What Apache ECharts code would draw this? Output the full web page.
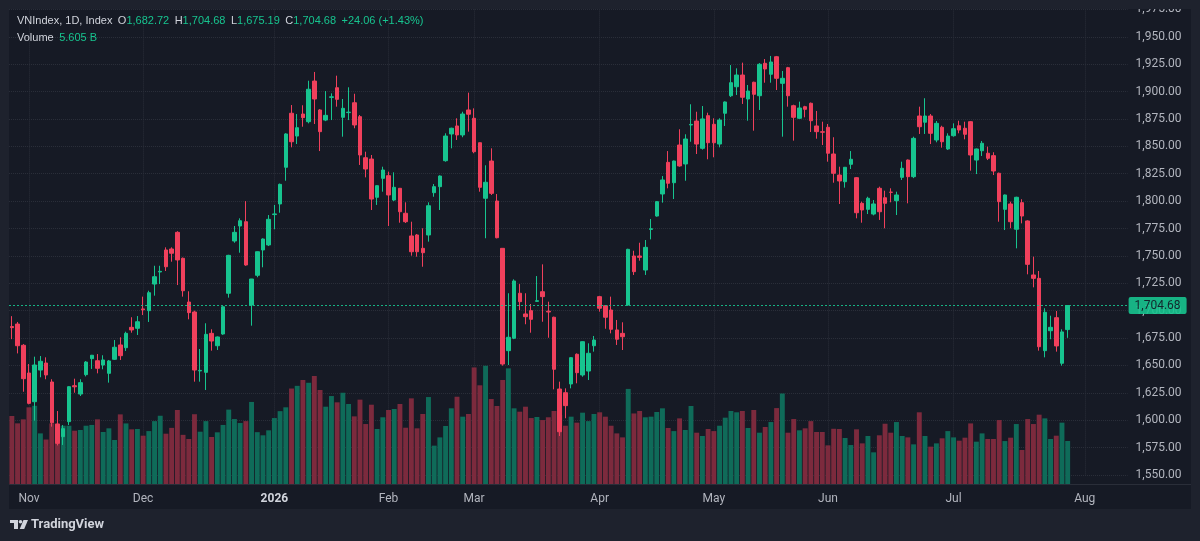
<!DOCTYPE html>
<html>
<head>
<meta charset="utf-8">
<script src="https://cdn.jsdelivr.net/npm/echarts@6.0.0/dist/echarts.min.js"></script>
<style>
html,body{margin:0;padding:0;background:#1e222d;}
#chart{width:1200px;height:541px;}
</style>
</head>
<body>
<div id="chart"></div>
<script>
// VNIndex daily, 29 Oct 2025 -> 29 Jul 2026
const startDate = '2025-10-29';
const holidays = ['2026-01-01','2026-01-02','2026-02-16','2026-02-17','2026-02-18','2026-02-19','2026-02-20','2026-04-27','2026-04-30','2026-05-01'];
const futureSlots = 10;
const monthNames = ['Jan','Feb','Mar','Apr','May','Jun','Jul','Aug','Sep','Oct','Nov','Dec'];

const opens = [1685.5,1687.8,1668.4,1643.1,1616.9,1645.8,1652.2,1634.9,1596.6,1585,
1598.7,1631.5,1623.9,1641.6,1656.2,1654.3,1650.4,1642.8,1655.6,1668.7,
1666.2,1684.8,1683.9,1701.6,1700,1724.3,1735.3,1755.4,1756.3,1771.5,
1747.8,1707.9,1698.8,1645,1643.7,1679.3,1668,1678.7,1715.9,1763.6,
1777.3,1781.2,1705.2,1732.3,1755.4,1760,1787.7,1797.4,1830.9,1880.2,
1859.4,1879.5,1872.5,1909.6,1883.2,1874,1894.7,1903.5,1876.5,1880.8,
1889.8,1877.1,1839.6,1838.4,1803.5,1820.8,1823.2,1801,1811.7,1788.9,
1768.2,1769.1,1756.9,1769.1,1807.7,1813.2,1836.9,1861.3,1868.6,1860.4,
1883.2,1875.6,1853.3,1802.6,1836.6,1800.1,1756.9,1663.5,1674.8,1715.9,
1697,1700,1708.5,1717.3,1699.5,1694,1628.5,1625.1,1633.1,1660.2,
1641.3,1644.9,1668,1712.8,1704.5,1700.6,1682.4,1679.3,1705.2,1749.9,
1749.9,1737.1,1774.2,1786.4,1806.5,1835.4,1816.8,1851.2,1833.9,1869.5,
1873.1,1848.2,1878,1870.1,1852.1,1880.2,1896.2,1904.4,1915.1,1893.2,
1908.5,1896.2,1925.8,1915.8,1931.8,1907.5,1921.8,1887.1,1875.6,1886.2,
1889.3,1868.6,1863.3,1867.4,1843,1823.8,1817.7,1833.6,1821.4,1798,
1792.5,1788.2,1811.7,1803.1,1808.2,1800.4,1821.7,1837.5,1822.3,1877.7,
1872,1877.7,1855.8,1867.4,1847.6,1859.7,1868.8,1866.5,1872.5,1837.5,
1846,1843.7,1841.5,1825.4,1792.5,1797.4,1774.3,1798.6,1781.9,1732.6,
1729.5,1663.5,1681.7,1693.6,1652,1682.72];

const highs = [1695,1689.7,1669.5,1651.3,1658,1658.6,1657.4,1637.4,1608.4,1595.6,
1631,1637.9,1637.4,1654,1659.6,1660.4,1659.3,1655,1673.2,1675.7,
1680.8,1694,1695.1,1712.8,1718.2,1741,1741,1757.8,1757.8,1772.5,
1748.5,1717.7,1700,1665,1688.5,1683,1676.5,1704,1751,1777.3,
1784.3,1800,1729,1754,1766,1787.3,1796.5,1816,1862,1887.7,
1879.5,1887.5,1909.9,1917.9,1884,1900.5,1898.4,1914.5,1893.2,1903.9,
1898,1878.6,1845.1,1842.1,1814.5,1831.4,1826.9,1826.3,1812,1798.9,
1781.2,1770,1775.2,1798.9,1815.6,1823.5,1861.9,1867,1875.6,1881.6,
1899,1884.7,1853.5,1832.7,1848.2,1806.5,1757,1715.9,1728.6,1724.3,
1715.9,1706.1,1731.6,1742.3,1708.2,1694.5,1635.2,1629.1,1657.5,1661,
1672,1670.2,1676.9,1713.5,1705,1712.8,1691.5,1689.4,1756.5,1754.7,
1762,1764.5,1783.7,1800,1822.9,1845.7,1837,1865.6,1861,1888.4,
1881.6,1886.8,1880.7,1875.6,1875.6,1891,1924.2,1921.2,1926.4,1906,
1909,1926,1929.7,1932.5,1932.5,1918.8,1922.5,1888,1890.8,1887,
1890,1882.3,1872.5,1870.4,1858.3,1831.4,1831,1845.7,1822,1799.5,
1804,1801,1813.2,1809.5,1811.7,1808.6,1836,1838,1858.8,1886.2,
1893.9,1879.5,1873.1,1868.8,1861.9,1871,1873.4,1872.5,1873,1848,
1854.9,1849.7,1844.6,1826,1806,1799.5,1804,1801.7,1782.5,1749.3,
1736.2,1702.2,1695.4,1699.7,1683,1704.68];

const lows = [1674,1661,1626,1614.5,1599.6,1639.2,1637.4,1594.1,1577,1577.4,
1595.6,1625.1,1622.1,1640,1646.8,1642.8,1646.5,1634.3,1655,1655,
1663.2,1679.9,1677.8,1696,1689.7,1713.7,1724.3,1736.2,1744.7,1723.4,
1712.8,1692.1,1635.2,1635.2,1627.6,1663.5,1664.1,1678,1711.9,1762,
1752.9,1741,1686.3,1730.5,1739.6,1759,1774.3,1789.4,1818.6,1849.1,
1852.1,1867.9,1871,1870.4,1845.7,1873,1874,1886.2,1858.8,1874,
1866.5,1833,1821.7,1791.9,1796.5,1808.6,1777.3,1800,1780.3,1780,
1750.2,1749.3,1740.1,1763,1804,1791.9,1836,1848.2,1855.8,1858.3,
1863.4,1843.7,1808.6,1766.1,1805.6,1766,1649.8,1650.4,1674,1700.6,
1687.6,1679.9,1708,1689.9,1675.3,1628.2,1585.6,1601.8,1629.1,1633.7,
1639.7,1636.7,1662.6,1699.1,1683.5,1679.3,1668.7,1664.1,1704.5,1732.6,
1745.6,1732.6,1765.1,1785.8,1798.6,1811.7,1801.9,1831.4,1818.6,1854.2,
1843,1847,1838.2,1840,1849.1,1868.6,1895,1896.9,1888.7,1873.4,
1864.3,1883.2,1908.1,1908.1,1901.4,1858.8,1886.2,1855.2,1875,1876.5,
1863.1,1857,1851.2,1836,1816.8,1797.4,1812.3,1829.3,1784.3,1780.3,
1788.2,1787,1782.8,1775.2,1798.9,1787.3,1819.3,1798,1821,1861.3,
1861.3,1852.1,1853.7,1848.8,1846.7,1858.8,1861.9,1856.4,1827.8,1824.7,
1841.2,1837.5,1823.8,1781.2,1773.6,1775.2,1756.9,1779.7,1733.2,1721.3,
1663.5,1657.4,1673.9,1662.6,1649.8,1675.19];

const closes = [1684.5,1668,1637.9,1615.4,1650.4,1653.8,1641.3,1597.7,1578.9,1592.3,
1630.6,1630.5,1634.3,1653.1,1659.3,1647.4,1655,1654.1,1666.6,1658.9,
1679.3,1682.4,1689.9,1700.8,1716.4,1731,1735.9,1740.1,1752.4,1746.3,
1718.2,1698.2,1645.8,1645.5,1678.4,1672.3,1676,1703.6,1750.5,1771.5,
1782.1,1741.7,1728.9,1753.8,1765.4,1783.4,1788.3,1815.3,1861.3,1854.2,
1867,1876.2,1902.1,1893.2,1863.4,1878.3,1895.2,1892.9,1884.7,1881.2,
1869.5,1842.1,1829.3,1801.9,1814.1,1828.4,1805.6,1812.6,1790.3,1781.2,
1753.8,1753.8,1752.9,1795.8,1813.2,1822.9,1859.4,1866.5,1860.4,1879.5,
1879.3,1845.1,1812.6,1817.2,1807.1,1766.6,1651.3,1675.7,1727.1,1708.2,
1694.5,1692.1,1709.1,1712.8,1698.8,1646.5,1589.5,1613.3,1657.1,1643.4,
1671.7,1661.1,1673.2,1702.2,1694,1683,1673.9,1676.2,1756,1735.6,
1748.7,1757.8,1774.8,1799.5,1819.3,1816.3,1836.6,1832.1,1856.7,1870,
1852.1,1875,1853.3,1853.3,1874,1890.5,1908.1,1915.1,1894.8,1900.5,
1897.5,1924.9,1920.6,1927,1912.1,1912.1,1896.2,1876.5,1885,1883.8,
1873.4,1863.4,1862.9,1843.7,1825.4,1818.4,1830.9,1838.2,1789.4,1791.9,
1802.6,1797.4,1790.3,1798,1808,1805.6,1830,1822.3,1857.3,1867.9,
1877.7,1861.9,1871,1854.2,1859.4,1866.1,1864.9,1861,1842.1,1847.6,
1852.8,1839.1,1827.5,1799.5,1805.6,1781.2,1803.5,1786.4,1742.3,1729.5,
1667.1,1698.5,1684.8,1667.8,1680.62,1704.68];

// volume in billions
const volumes = [8.87,7.91,8.43,10.0,10.2,6.6,5.8,7.9,7.6,7.6,
7.6,6.95,7.04,7.6,7.7,8.43,6.78,7.26,5.74,9.08,
7.9,7.13,7.17,6.3,6.9,8.2,8.9,6.56,7.32,9.65,
6.41,5.87,9.1,6.82,8.2,6.13,6.74,7.7,9.7,8.47,
7.95,8.2,10.7,6.76,6.35,7.0,8.6,9.5,10.0,12.45,
12.8,13.56,13.2,14.08,12.26,10.08,11.47,10.65,11.9,10.43,
8.82,11.0,7.82,10.34,7.17,8.7,9.65,9.78,10.43,7.34,
11.17,7.26,9.13,11.34,5.0,6.08,7.56,9.87,11.38,8.78,
9.13,15.2,12.87,15.42,11.08,10.17,13.56,15.08,9.87,9.43,
10.08,8.6,8.74,8.34,8.7,9.52,9.0,7.6,8.78,8.0,
9.3,8.2,9.13,9.35,8.78,7.6,6.6,6.08,12.4,9.2,
9.52,8.7,8.78,9.39,9.87,7.3,6.9,8.56,7.04,10.17,
6.69,6.26,7.17,6.9,7.6,8.65,9.52,9.35,9.52,7.3,
9.65,6.69,7.43,8.08,9.9,11.8,6.69,8.47,7.0,7.26,
8.2,6.78,6.78,5.04,7.2,7.17,6.0,5.08,7.13,5.3,
6.26,4.13,6.35,7.86,6.69,8.08,6.26,6.08,5.17,9.35,
6.26,4.87,5.3,5.96,6.9,6.08,5.65,6.04,7.9,5.52,
6.6,5.87,5.87,8.34,5.6,6.04,7.82,4.43,8.47,7.82,
9.04,8.56,5.87,6.3,8.0,5.605];

const priceMin = 1550, priceMax = 1975, priceStep = 25;

const upColor = '#17c48f', downColor = '#f0405c';
const upVol = '#0f6b59', downVol = '#7c2a3d';
const gridColor = '#2a2e39', textColor = '#b2b5be';

function tradingDays(start, count) {
    let out = [];
    let d = new Date(start + 'T00:00:00Z');
    while (out.length < count) {
        let wd = d.getUTCDay();
        let s = d.toISOString().slice(0, 10);
        if (wd !== 0 && wd !== 6 && holidays.indexOf(s) < 0) out.push(s);
        d.setUTCDate(d.getUTCDate() + 1);
    }
    return out;
}
function fmt(v) {
    let parts = v.toFixed(2).split('.');
    return parts[0].replace(/\B(?=(\d{3})+(?!\d))/g, ',') + '.' + parts[1];
}

const n = opens.length;
const dates = tradingDays(startDate, n + futureSlots);
const monthStart = dates.map((s, i) => i > 0 && s.slice(0, 7) !== dates[i - 1].slice(0, 7));

const candleData = dates.map((d, i) => i < n ? [opens[i], closes[i], lows[i], highs[i]] : '-');
const volumeData = dates.map((d, i) => i < n ? {
    value: volumes[i],
    itemStyle: {color: closes[i] >= opens[i] ? upVol : downVol}
} : '-');

const last = n - 1;
const change = closes[last] - closes[last - 1];
const changePct = change / closes[last - 1] * 100;

const chart = echarts.init(document.getElementById('chart'));
const sideRight = 72.4;

chart.setOption({
    backgroundColor: '#1e222d',
    animation: false,
    textStyle: {fontFamily: 'Roboto, "Noto Sans", sans-serif'},
    grid: [
        {left: 9, right: sideRight, top: 9.4, bottom: 66},
        {left: 9, right: sideRight, top: 361.3, bottom: 57}
    ],
    xAxis: [
        {
            type: 'category', gridIndex: 0, data: dates, boundaryGap: true,
            axisLine: {show: false}, axisTick: {show: false}, axisLabel: {show: false},
            splitLine: {
                show: true, alignWithLabel: true,
                interval: (i) => monthStart[i],
                lineStyle: {color: gridColor, type: 'dotted', width: 1}
            }
        },
        {
            type: 'category', gridIndex: 1, data: dates, boundaryGap: true,
            axisLine: {show: false}, axisTick: {show: false},
            splitLine: {show: false},
            axisLabel: {
                show: true, margin: 9,
                interval: (i) => monthStart[i],
                color: textColor, fontSize: 12,
                formatter: function (value) {
                    let m = parseInt(value.slice(5, 7), 10) - 1;
                    if (m === 0) return '{y|' + value.slice(0, 4) + '}';
                    return monthNames[m];
                },
                rich: {y: {color: '#d1d4dc', fontWeight: 'bold', fontSize: 12}}
            }
        }
    ],
    yAxis: [
        {
            type: 'value', gridIndex: 0, position: 'right',
            min: priceMin, max: priceMax, interval: priceStep,
            axisLine: {show: false}, axisTick: {show: false},
            axisLabel: {color: textColor, fontSize: 12, margin: 8, formatter: (v) => fmt(v)},
            splitLine: {lineStyle: {color: gridColor, type: 'dotted', width: 1}}
        },
        {
            type: 'value', gridIndex: 1, min: 0, max: 16, show: false,
            splitLine: {show: false}
        }
    ],
    series: [
        {
            name: 'Volume', type: 'bar', xAxisIndex: 1, yAxisIndex: 1,
            data: volumeData, barCategoryGap: '14%', z: 1,
            markLine: {
                silent: true, symbol: 'none', animation: false,
                lineStyle: {opacity: 0},
                data: [{yAxis: volumes[last]}],
                label: {
                    position: 'end', distance: 1,
                    formatter: volumes[last].toFixed(3) + ' B',
                    backgroundColor: upColor, color: '#131722',
                    fontSize: 12, padding: [3, 5, 2, 5], borderRadius: 2
                }
            }
        },
        {
            name: 'VNIndex', type: 'candlestick', xAxisIndex: 0, yAxisIndex: 0,
            data: candleData, barWidth: 4, z: 3,
            itemStyle: {
                color: upColor, color0: downColor,
                borderColor: upColor, borderColor0: downColor, borderWidth: 1
            },
            markLine: {
                silent: true, symbol: 'none', animation: false,
                data: [{yAxis: closes[last]}],
                lineStyle: {color: upColor, type: [2, 2], width: 1, opacity: 0.9},
                label: {
                    position: 'end', distance: 1,
                    formatter: fmt(closes[last]),
                    backgroundColor: upColor, color: '#131722',
                    fontSize: 12, padding: [3, 6, 2, 6], borderRadius: 2
                }
            }
        }
    ],
    graphic: [
        {type: 'rect', z: -10, silent: true, shape: {x: 9, y: 9, width: 1182, height: 500}, style: {fill: '#161a25'}},
        {type: 'line', z: -5, silent: true, shape: {x1: 9, y1: 484.5, x2: 1191, y2: 484.5}, style: {stroke: gridColor, lineWidth: 1}},
        {type: 'rect', z: 100, silent: true, shape: {x: 0, y: 0, width: 1200, height: 9}, style: {fill: '#1e222d'}},
        {
            type: 'text', z: 100, x: 17, y: 21, silent: true,
            style: {
                text: '{n|VNIndex, 1D, Index}  {k|O}{v|' + fmt(opens[last]) + '}  {k|H}{v|' + fmt(highs[last]) +
                    '}  {k|L}{v|' + fmt(lows[last]) + '}  {k|C}{v|' + fmt(closes[last]) + '}  {v|+' +
                    change.toFixed(2) + ' (+' + changePct.toFixed(2) + '%)}',
                verticalAlign: 'middle', fontSize: 11, fontFamily: 'Roboto, sans-serif',
                rich: {
                    n: {fill: '#d1d4dc', fontSize: 11},
                    k: {fill: '#d1d4dc', fontSize: 11},
                    v: {fill: upColor, fontSize: 11}
                }
            }
        },
        {
            type: 'text', z: 100, x: 17, y: 38, silent: true,
            style: {
                text: '{n|Volume}  {v|' + volumes[last].toFixed(3) + ' B}',
                verticalAlign: 'middle', fontSize: 11, fontFamily: 'Roboto, sans-serif',
                rich: {n: {fill: '#d1d4dc', fontSize: 11}, v: {fill: upColor, fontSize: 11}}
            }
        },
        {type: 'rect', z: 100, silent: true, shape: {x: 10, y: 520, width: 8, height: 3}, style: {fill: '#d1d4dc'}},
        {type: 'rect', z: 100, silent: true, shape: {x: 14, y: 520, width: 4, height: 9}, style: {fill: '#d1d4dc'}},
        {type: 'circle', z: 100, silent: true, shape: {cx: 20.5, cy: 521.8, r: 1.8}, style: {fill: '#d1d4dc'}},
        {type: 'polygon', z: 100, silent: true, shape: {points: [[23.5, 520], [28, 520], [24.2, 529], [19.7, 529]]}, style: {fill: '#d1d4dc'}},
        {
            type: 'text', z: 100, x: 31, y: 525, silent: true,
            style: {text: 'TradingView', fill: '#d1d4dc', fontSize: 13, fontWeight: 'bold', verticalAlign: 'middle', fontFamily: 'Roboto, sans-serif'}
        }
    ]
});
</script>
</body>
</html>
